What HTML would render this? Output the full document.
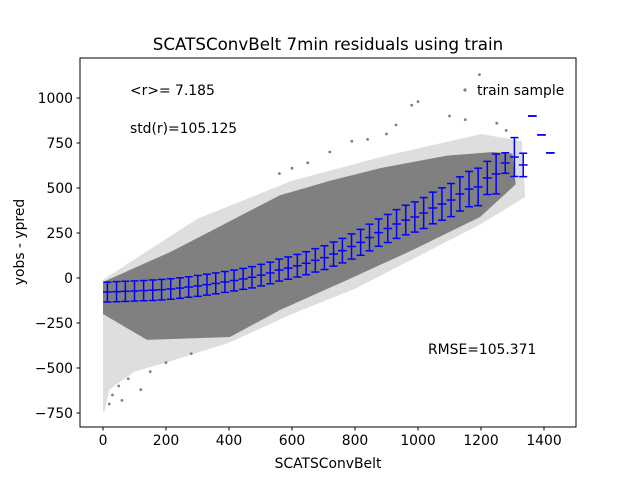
<!DOCTYPE html>
<html><head><meta charset="utf-8"><style>
body{margin:0;background:#fff;}
svg{display:block;font-family:"DejaVu Sans","Liberation Sans",sans-serif;}
</style></head><body>
<svg id="chart" width="640" height="480" viewBox="0 0 640 480">
<rect width="640" height="480" fill="#fff"/>
<g id="plot"></g>
<rect x="80" y="58" width="496" height="369" fill="none" stroke="#000" stroke-width="1"/>
<g id="xticks"></g>
<g id="yticks"></g>
<text x="328" y="50" font-size="16.7" text-anchor="middle">SCATSConvBelt 7min residuals using train</text>
<text x="328" y="468" font-size="13.9" text-anchor="middle">SCATSConvBelt</text>
<text x="24" y="242" font-size="13.9" text-anchor="middle" transform="rotate(-90 24 242)">yobs - ypred</text>
<text x="130" y="95" font-size="13.9">&lt;r&gt;= 7.185</text>
<text x="130" y="133" font-size="13.9">std(r)=105.125</text>
<text x="428" y="354" font-size="13.9">RMSE=105.371</text>
<circle cx="465" cy="90" r="1.6" fill="#808080"/>
<text x="477" y="95" font-size="13.9">train sample</text>
</svg>
<script>
const binX=[14,43,71,100,129,158,186,215,244,272,301,330,358,387,416,445,473,502,531,559,588,617,645,674,703,732,760,789,818,846,875,904,932,961,990,1018,1047,1076,1105,1133,1162,1191,1220,1248,1277,1306,1334,1363,1392,1420];
const binMean=[-78,-76,-74,-72,-70,-68,-65,-61,-56,-50,-44,-37,-30,-22,-14,-5,4,16,28,44,55,68,82,98,113,133,152,175,198,225,252,275,300,322,339,361,389,411,433,467,494,506,556,578,639,672,628,900,795,695];
const binErr=[55,56,56,56,56,57,57,57,57,57,58,58,58,58,58,58,59,60,60,61,62,63,64,65,66,67,68,70,72,74,76,78,80,82,84,86,88,90,92,95,98,104,92,111,57,108,65,0,0,0];
const binHalf=14;
const denseX=[0,213,349,562,721,879,1092,1238,1300,1310,1197,984,775,562,403,140,0];
const denseY=[-22,144,267,460,540,610,680,700,690,520,339,156,-11,-178,-328,-344,-200];
const haloX=[0,300,600,900,1200,1330,1340,1200,1000,800,600,400,200,100,20,5,0];
const haloY=[-10,330,540,680,800,760,450,300,120,-60,-200,-360,-470,-520,-620,-740,-740];
const outX=[1195,1000,980,930,900,840,790,720,650,600,560,1100,1150,1250,1280,30,50,80,150,200,280,20,60,120];
const outY=[1130,980,960,850,800,770,760,700,640,610,580,900,880,860,820,-650,-600,-560,-520,-470,-420,-700,-680,-620];
const xTicks=[0,200,400,600,800,1000,1200,1400];
const yTicks=[-750,-500,-250,0,250,500,750,1000];
const NS='http://www.w3.org/2000/svg';
const sx=v=>103+v*0.315;
const sy=v=>278-v*0.18;
const plot=document.getElementById('plot');
function mk(tag,attrs,parent){const e=document.createElementNS(NS,tag);for(const k in attrs)e.setAttribute(k,attrs[k]);parent.appendChild(e);return e;}
const halo=mk('polygon',{points:haloX.map((x,i)=>sx(x)+','+sy(haloY[i])).join(' '),fill:'#dedede'},plot);


const dense=mk('polygon',{points:denseX.map((x,i)=>sx(x)+','+sy(denseY[i])).join(' '),fill:'#808080'},plot);


outX.forEach((x,i)=>{const c=mk('circle',{cx:sx(x),cy:sy(outY[i]),r:1.4,fill:'#808080'},plot);

});
binX.forEach((x,i)=>{
  const g=mk('g',{stroke:'#0000ff','stroke-width':1.5,fill:'none'},plot);
  
  
  const cx=sx(x),cy=sy(binMean[i]),top=sy(binMean[i]+binErr[i]),bot=sy(binMean[i]-binErr[i]);
  mk('line',{x1:sx(x-binHalf),x2:sx(x+binHalf),y1:cy,y2:cy},g);
  mk('line',{x1:cx,x2:cx,y1:top,y2:bot},g);
  mk('line',{x1:cx-4,x2:cx+4,y1:top,y2:top},g);
  mk('line',{x1:cx-4,x2:cx+4,y1:bot,y2:bot},g);
});
const xg=document.getElementById('xticks');
xTicks.forEach(t=>{const l=mk('line',{x1:sx(t),x2:sx(t),y1:427,y2:430.5,stroke:'#000'},xg);


const tx=mk('text',{x:sx(t),y:445,'font-size':13.9,'text-anchor':'middle'},xg);tx.textContent=t;

});
const yg=document.getElementById('yticks');
yTicks.forEach(t=>{const l=mk('line',{x1:76.5,x2:80,y1:sy(t),y2:sy(t),stroke:'#000'},yg);


const tx=mk('text',{x:73,y:sy(t)+5,'font-size':13.9,'text-anchor':'end'},yg);tx.textContent=t<0?'\u2212'+(-t):t;

});
</script>
</body></html>
